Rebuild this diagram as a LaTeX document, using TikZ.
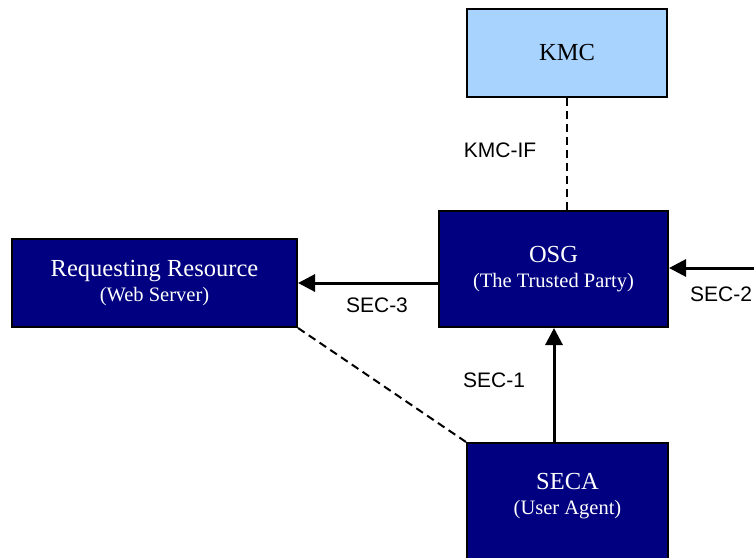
\documentclass[tikz,border=0pt]{standalone}
\usepackage{fontspec}
\setmainfont{Liberation Serif}
\setsansfont{Liberation Sans}
\usetikzlibrary{arrows.meta}
\definecolor{navybox}{RGB}{0,0,128}
\definecolor{lightbox}{RGB}{168,211,255}
\begin{document}
\begin{tikzpicture}[x=1pt,y=-1pt,
  box/.style={draw=black,line width=2pt,rectangle,inner sep=0pt,align=center,
    font=\fontsize{24.5}{24.5}\selectfont},
  darkbox/.style={box,fill=navybox,text=white},
  sub/.style={font=\fontsize{20.5}{24.5}\selectfont},
  lbl/.style={font=\sffamily\fontsize{21}{24}\selectfont,inner sep=0pt},
  arr/.style={line width=3pt,-{Triangle[length=17pt,width=17pt]}},
  dash line/.style={line width=2pt,dash pattern=on 8pt off 5pt}]
\useasboundingbox (0,0) rectangle (754,557);
\clip (0,0) rectangle (754,557);
% boxes
\node[box,fill=lightbox,minimum width=200pt,minimum height=88pt] (kmc) at (567,53) {KMC};
\node[darkbox,minimum width=229pt,minimum height=116pt] (osg) at (553.5,269)
  {OSG\\[0pt]{\fontsize{20.5}{24.5}\selectfont (The Trusted Party)}};
\node[darkbox,minimum width=285pt,minimum height=88pt] (rr) at (154.5,283)
  {Requesting Resource\\{\fontsize{20.5}{23}\selectfont (Web Server)}};
\node[darkbox,minimum width=201pt,minimum height=160pt,anchor=north] (seca) at (567.5,442) {};
\node[text=white,align=center,font=\fontsize{24.5}{25}\selectfont,inner sep=0pt] (secatext) at (567.5,496)
  {SECA\\{\fontsize{20.5}{25}\selectfont (User Agent)}};
% connectors
\coordinate (sec2in) at (760,268);
\draw[dash line] (kmc.south) -- (kmc.south |- osg.north);
\draw[arr] (rr.east -| osg.west) -- (rr.east);
\draw[arr] (seca.north -| 554,0) -- (osg.south -| 554,0);
\draw[arr] (sec2in) -- (sec2in -| osg.east);
\draw[dash line] (rr.south east) -- (seca.north west);
% labels
\node[lbl] (kmcif) at (500,150) {KMC-IF};
\node[lbl] (sec3) at (377,305) {SEC-3};
\node[lbl] (sec1) at (494,380) {SEC-1};
\node[lbl,anchor=west] (sec2) at (690,294) {SEC-2};
\end{tikzpicture}
\end{document}
